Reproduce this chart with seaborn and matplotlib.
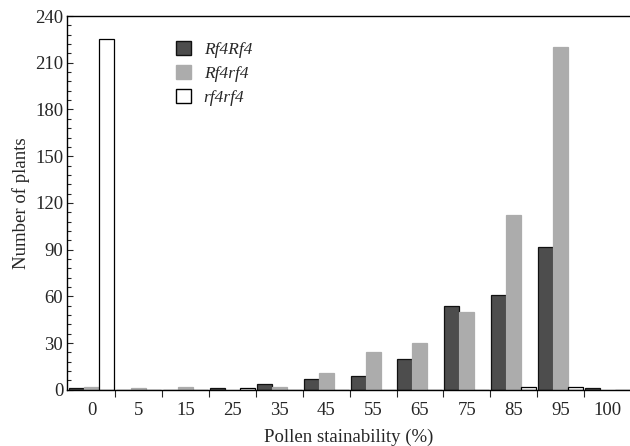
import matplotlib
matplotlib.use("Agg")
import matplotlib.pyplot as plt
import seaborn as sns
import pandas as pd
from matplotlib.ticker import MultipleLocator, FixedLocator
from matplotlib.patches import Patch

categories = ["0", "5", "15", "25", "35", "45", "55", "65", "75", "85", "95", "100"]
rf4rf4_dom = [1, 0, 0, 1, 4, 7, 9, 20, 54, 61, 92, 1]      # Rf4Rf4
rf4rf4_het = [2, 1, 2, 0, 2, 11, 24, 30, 50, 112, 220, 0]  # Rf4rf4
rf4rf4_rec = [225, 0, 0, 1, 0, 0, 0, 0, 0, 2, 2, 0]        # rf4rf4
series_names = ["Rf4Rf4", "Rf4rf4", "rf4rf4"]

rows = []
for name, vals in zip(series_names, [rf4rf4_dom, rf4rf4_het, rf4rf4_rec]):
    for c, v in zip(categories, vals):
        rows.append({"cat": c, "val": v, "geno": name})
df = pd.DataFrame(rows)

sns.set_style("ticks")
plt.rcParams["font.family"] = ["Liberation Serif", "DejaVu Serif"]

fig = plt.figure(figsize=(6.3, 4.46), dpi=100)
ax = fig.add_axes([0.107, 0.126, 0.893, 0.838])

face = {"Rf4Rf4": "#4d4d4d", "Rf4rf4": "#acacac", "rf4rf4": "#ffffff"}
edge = {"Rf4Rf4": "#111111", "Rf4rf4": "#acacac", "rf4rf4": "#000000"}

sns.barplot(data=df, x="cat", y="val", hue="geno", order=categories,
            hue_order=series_names, palette=face, width=0.96, gap=0,
            errorbar=None, legend=False, ax=ax, saturation=1)

for cont, name in zip(ax.containers, series_names):
    for p in cont:
        p.set_edgecolor(edge[name])
        p.set_linewidth(0.9)

ax.set_xlim(-0.52, 11.48)
ax.set_ylim(0, 240)
ax.yaxis.set_major_locator(MultipleLocator(30))
ax.yaxis.set_minor_locator(MultipleLocator(6))
ax.tick_params(axis="y", which="both", direction="in", length=4, width=0.8, labelsize=13.5, pad=3)
ax.tick_params(axis="y", which="minor", length=3)

ax.set_xticks(range(len(categories)))
ax.set_xticklabels(categories)
ax.xaxis.set_minor_locator(FixedLocator([i + 0.5 for i in range(len(categories) - 1)]))
ax.tick_params(axis="x", which="major", length=0, labelsize=13.5, pad=9)
ax.tick_params(axis="x", which="minor", direction="out", length=5, width=0.8)

for s in ["left", "bottom", "top"]:
    ax.spines[s].set_linewidth(1.0)
    ax.spines[s].set_color("black")
ax.spines["right"].set_visible(False)

ax.set_xlabel("Pollen stainability (%)", fontsize=13.5, labelpad=7)
ax.set_ylabel("Number of plants", fontsize=13.5, labelpad=4)

handles = [Patch(facecolor=face[n], edgecolor=edge[n], linewidth=1.0, label=n) for n in series_names]
leg = ax.legend(handles=handles, loc="upper left", bbox_to_anchor=(0.165, 0.976), frameon=False,
                prop={"family": "Liberation Serif", "style": "italic", "size": 12.5},
                handlelength=0.9, handleheight=0.9, handletextpad=0.7, labelspacing=0.4)

fig.savefig("out.png", dpi=100)
